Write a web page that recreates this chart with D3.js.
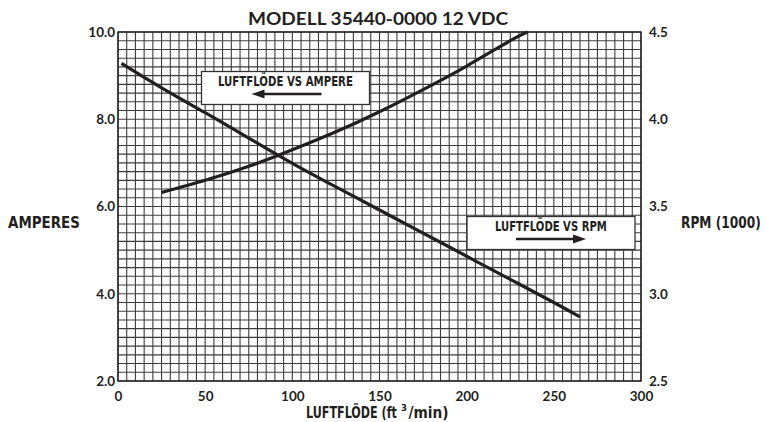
<!DOCTYPE html>
<html lang="sv">
<head>
<meta charset="utf-8">
<script src="https://d3js.org/d3.v7.min.js"></script>
<style>
  body { margin: 0; background: #fff; }
  .tick text { font-family: Lato, "DejaVu Sans", sans-serif; font-weight: 700; font-size: 13.5px; fill: #231f20; }
  .cond { font-family: "Liberation Sans Narrow", "DejaVu Sans Condensed", sans-serif; font-weight: 700; fill: #231f20; }
</style>
</head>
<body>
<script>
// luftflöde (ft3/min) vs ampere, left axis
var ampFlow = [2, 25, 50, 75, 100, 125, 150, 175, 200, 225, 250, 265];
var ampVals = [9.28, 8.72, 8.15, 7.57, 6.99, 6.45, 5.92, 5.39, 4.86, 4.33, 3.80, 3.47];

// luftflöde vs rpm (1000), right axis
var rpmFlow = [25, 50, 75, 100, 125, 150, 175, 200, 225, 235];
var rpmVals = [3.58, 3.65, 3.73, 3.825, 3.928, 4.043, 4.17, 4.305, 4.45, 4.5];

var xTicks = [0, 50, 100, 150, 200, 250, 300];
var ampTicks = [2, 4, 6, 8, 10];
var rpmTicks = [2.5, 3.0, 3.5, 4.0, 4.5];

var W = 766, H = 422;
var ink = "#231f20";

var svg = d3.select("body").append("svg")
    .attr("width", W)
    .attr("height", H);

var x = d3.scaleLinear().domain([0, 300]).range([118, 641]);
var yL = d3.scaleLinear().domain([2, 10]).range([381, 32]);
var yR = d3.scaleLinear().domain([2.5, 4.5]).range([381, 32]);

// squeeze a text horizontally so it takes w px (stands in for a condensed face)
function condText(parent, px, py, w, size, str, anchor) {
  var t = parent.append("text").attr("class", "cond")
      .attr("font-size", size)
      .text(str);
  var nat = t.node().getComputedTextLength();
  var sx = w / nat;
  var left = anchor === "middle" ? px - w / 2 : px;
  t.attr("transform", "translate(" + left + "," + py + ") scale(" + sx + ",1)");
  return t;
}

// grid: 5 units across, 0.2 A down
var grid = svg.append("g").attr("stroke", "#3c3c3c").attr("stroke-width", 1.1);
grid.selectAll("line.v")
    .data(d3.range(0, 301, 5))
    .enter().append("line")
    .attr("x1", d => x(d)).attr("x2", d => x(d))
    .attr("y1", yL(2)).attr("y2", yL(10));
grid.selectAll("line.h")
    .data(d3.range(0, 41).map(i => 2 + i * 0.2))
    .enter().append("line")
    .attr("y1", d => yL(d)).attr("y2", d => yL(d))
    .attr("x1", x(0)).attr("x2", x(300));

svg.append("rect")
    .attr("x", x(0)).attr("y", yL(10))
    .attr("width", x(300) - x(0)).attr("height", yL(2) - yL(10))
    .attr("fill", "none").attr("stroke", ink).attr("stroke-width", 1.4);

// axes
var ax = svg.append("g").attr("transform", "translate(0," + yL(2) + ")")
    .call(d3.axisBottom(x).tickValues(xTicks).tickSize(0).tickPadding(10));
var al = svg.append("g").attr("transform", "translate(" + x(0) + ",0)")
    .call(d3.axisLeft(yL).tickValues(ampTicks).tickSize(0).tickPadding(3).tickFormat(d3.format(".1f")));
var ar = svg.append("g").attr("transform", "translate(" + x(300) + ",0)")
    .call(d3.axisRight(yR).tickValues(rpmTicks).tickSize(0).tickPadding(8).tickFormat(d3.format(".1f")));
[ax, al, ar].forEach(g => g.select(".domain").remove());

// curves
var ampLine = d3.line().x(d => x(d[0])).y(d => yL(d[1])).curve(d3.curveNatural);
var rpmLine = d3.line().x(d => x(d[0])).y(d => yR(d[1])).curve(d3.curveNatural);

svg.append("path")
    .datum(d3.zip(ampFlow, ampVals))
    .attr("d", ampLine)
    .attr("fill", "none").attr("stroke", ink).attr("stroke-width", 3.2);
svg.append("path")
    .datum(d3.zip(rpmFlow, rpmVals))
    .attr("d", rpmLine)
    .attr("fill", "none").attr("stroke", ink).attr("stroke-width", 3.2);

// legend boxes
function legendBox(bx, by, bw, bh, label, tw, dir) {
  var g = svg.append("g");
  g.append("rect")
    .attr("x", bx).attr("y", by).attr("width", bw).attr("height", bh)
    .attr("fill", "#fff").attr("stroke", "#333").attr("stroke-width", 1.3);
  condText(g, bx + bw / 2, by + 14.5, tw, 14.5, label, "middle");
  var ay = by + 22.5, x0, x1;
  if (dir < 0) { x0 = bx + 120; x1 = bx + 50; } else { x0 = bx + 49; x1 = bx + 119; }
  g.append("line")
    .attr("x1", x0).attr("x2", x1 - dir * 10)
    .attr("y1", ay).attr("y2", ay)
    .attr("stroke", ink).attr("stroke-width", 2.6);
  g.append("path")
    .attr("d", "M" + x1 + "," + ay + "L" + (x1 - dir * 13) + "," + (ay - 4.5) + "L" + (x1 - dir * 13) + "," + (ay + 4.5) + "Z")
    .attr("fill", ink);
}
legendBox(201.5, 71.5, 168, 33, "LUFTFLÖDE VS AMPERE", 135, -1);
legendBox(467, 216.5, 168, 33, "LUFTFLÖDE VS RPM", 112, 1);

// titles
svg.append("text")
    .attr("x", 378).attr("y", 25)
    .attr("text-anchor", "middle")
    .attr("font-family", "Lato, 'DejaVu Sans', sans-serif")
    .attr("font-weight", 700)
    .attr("font-size", 16.5)
    .attr("textLength", 260).attr("lengthAdjust", "spacingAndGlyphs")
    .attr("fill", ink)
    .text("MODELL 35440-0000 12 VDC");

condText(svg, 8, 228, 72, 16, "AMPERES");
condText(svg, 681, 228, 80, 16, "RPM (1000)");

condText(svg, 306, 418, 91, 16, "LUFTFLÖDE (ft");
svg.append("text").attr("class", "cond")
    .attr("x", 401).attr("y", 411)
    .attr("font-size", 9.5).attr("font-weight", 400)
    .text("3");
condText(svg, 408.5, 418, 40, 16, "/min)");
</script>
</body>
</html>
